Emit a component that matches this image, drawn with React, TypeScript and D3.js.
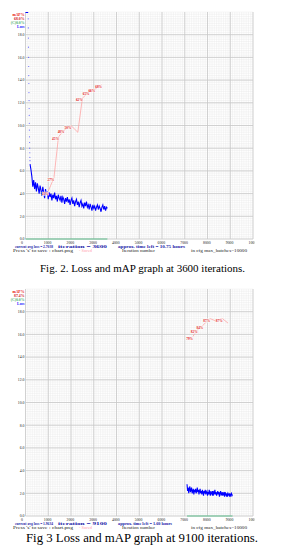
import { useEffect, useRef } from "react";
import * as d3 from "d3";

const W = 283;
const H = 556;
const MAX_BATCHES = 10000;
const MAX_LOSS = 20;

// ---- chart 1 : 3600 iterations ----
const loss1Start = 200;
const loss1Step = 40;
const loss1 = [
  6.6, 6.1, 5.5, 4.6, 5.2, 4.4, 5.0, 4.2, 4.9, 4.5, 4.0, 4.7, 4.3, 3.8, 4.6, 4.1,
  3.6, 4.4, 3.9, 4.2, 3.5, 4.1, 3.7, 4.0, 3.4, 3.9, 3.6, 4.1, 3.5, 3.8, 3.3, 3.9,
  3.6, 3.4, 3.8, 3.2, 3.7, 3.5, 3.1, 3.6, 3.3, 3.7, 3.2, 3.5, 3.0, 3.4, 3.6, 3.1,
  3.4, 2.9, 3.3, 3.5, 3.0, 3.3, 2.8, 3.2, 3.4, 2.9, 3.1, 2.7, 3.2, 2.9, 3.3, 2.8,
  3.0, 2.6, 3.1, 2.8, 2.5, 3.0, 2.7, 2.9, 2.5, 2.8, 3.0, 2.6, 2.9, 2.7, 2.4, 2.8,
  3.0, 2.6, 2.9, 2.5, 2.8, 2.7,
];
const early1Iter = [
  120, 124, 128, 132, 136, 140, 144, 148, 152, 156, 160, 164, 168, 172, 176, 180,
  184, 188, 192, 196,
];
const early1Loss = [
  19.4, 18.6, 17.7, 16.9, 16.0, 15.2, 14.4, 13.7, 12.9, 12.2, 11.5, 10.9, 10.2,
  9.6, 9.0, 8.5, 8.0, 7.6, 7.2, 6.9,
];
const top1Iter = [0, 120];
const map1Iter = [1000, 1250, 1450, 1700, 2000, 2300, 2500, 2800, 3050, 3350];
const map1Val = [21, 27, 45, 48, 50, 47, 62, 65, 66, 68];
const legend1 = ["mAP%", "68.0%", "(C)0.0%", "Loss"];
const status1 = ["current avg loss = 2.7038", "iteration = 3600", "approx. time left = 10.75 hours"];
const caption1 = "Fig. 2. Loss and mAP graph at 3600 iterations.";

// ---- chart 2 : 9100 iterations ----
const loss2Start = 7100;
const loss2Step = 25;
const loss2 = [
  2.8, 2.2, 2.5, 2.0, 2.4, 2.6, 2.1, 2.3, 2.5, 2.0, 2.2, 2.4, 1.9, 2.3, 2.1, 2.4,
  2.0, 2.2, 2.5, 2.1, 2.3, 1.9, 2.2, 2.4, 2.0, 2.2, 1.9, 2.3, 2.1, 1.8, 2.2, 2.0,
  2.3, 1.9, 2.1, 2.2, 1.8, 2.1, 1.9, 2.3, 2.0, 1.8, 2.2, 2.0, 1.9, 2.2, 1.8, 2.1,
  2.0, 2.3, 1.9, 2.1, 1.8, 2.0, 2.2, 1.9, 2.1, 1.7, 2.0, 2.2, 1.9, 2.0, 1.8, 2.1,
  1.9, 2.0, 1.7, 2.1, 1.9, 1.8, 2.0, 1.7, 2.0, 1.9, 1.8, 2.0, 1.7, 1.9, 2.0, 1.8,
  1.9,
];
const map2Iter = [7350, 7550, 7800, 8100, 8350, 8650, 8900];
const map2Val = [79, 82, 84, 87, 86, 87, 85];
const legend2 = ["mAP%", "87.4%", "(C)0.0%", "Loss"];
const status2 = ["current avg loss = 1.9634", "iteration = 9100", "approx. time left = 1.60 hours"];
const caption2 = "Fig 3 Loss and mAP graph at 9100 iterations.";

const xTicks = [0, 1000, 2000, 3000, 4000, 5000, 6000, 7000, 8000, 9000, 10000];
const yTicks = [0, 2, 4, 6, 8, 10, 12, 14, 16, 18];

type ChartCfg = {
  id: string;
  top: number;
  bottom: number;
  lossStart: number;
  lossStep: number;
  loss: number[];
  earlyIter?: number[];
  earlyLoss?: number[];
  topIter?: number[];
  mapIter: number[];
  mapVal: number[];
  legend: string[];
  status: string[];
  statusEnd: number;
};

const font = "'Liberation Serif', serif";

function drawChart(svg: d3.Selection<SVGSVGElement, unknown, null, undefined>, c: ChartCfg) {
  const x = d3.scaleLinear().domain([0, MAX_BATCHES]).range([25.5, 253]);
  const y = d3.scaleLinear().domain([0, MAX_LOSS]).range([c.bottom, c.top]);

  svg
    .append("clipPath")
    .attr("id", `clip-${c.id}`)
    .append("rect")
    .attr("x", 0)
    .attr("y", c.top - 5)
    .attr("width", 254.5)
    .attr("height", c.bottom - c.top + 25);

  const g = svg.append("g").attr("clip-path", `url(#clip-${c.id})`);

  // fine grid
  const minorX = d3.range(0, MAX_BATCHES + 1, 100);
  const minorY = d3.range(0, MAX_LOSS + 0.01, 0.2);
  g.append("g")
    .selectAll("line")
    .data(minorX)
    .join("line")
    .attr("x1", (d) => x(d))
    .attr("x2", (d) => x(d))
    .attr("y1", y(MAX_LOSS))
    .attr("y2", y(0))
    .attr("stroke", "#e9e9e9")
    .attr("stroke-width", 0.4);
  g.append("g")
    .selectAll("line")
    .data(minorY)
    .join("line")
    .attr("x1", x(0))
    .attr("x2", x(MAX_BATCHES))
    .attr("y1", (d) => y(d))
    .attr("y2", (d) => y(d))
    .attr("stroke", "#e9e9e9")
    .attr("stroke-width", 0.4);

  // major grid
  g.append("g")
    .selectAll("line")
    .data(xTicks)
    .join("line")
    .attr("x1", (d) => x(d))
    .attr("x2", (d) => x(d))
    .attr("y1", y(MAX_LOSS))
    .attr("y2", y(0))
    .attr("stroke", "#c8c8c8")
    .attr("stroke-width", 0.8);
  g.append("g")
    .selectAll("line")
    .data(yTicks)
    .join("line")
    .attr("x1", x(0))
    .attr("x2", x(MAX_BATCHES))
    .attr("y1", (d) => y(d))
    .attr("y2", (d) => y(d))
    .attr("stroke", "#c8c8c8")
    .attr("stroke-width", 0.8);

  // y labels
  g.append("g")
    .selectAll("text")
    .data(yTicks)
    .join("text")
    .attr("x", 24.5)
    .attr("y", (d) => y(d) + 1.3)
    .attr("text-anchor", "end")
    .attr("font-family", font)
    .attr("font-size", 3.8)
    .attr("fill", "#222")
    .text((d) => d3.format(".1f")(d));

  // x labels
  g.append("g")
    .selectAll("text")
    .data(xTicks)
    .join("text")
    .attr("x", (d) => x(d) - 4.5)
    .attr("y", c.bottom + 5.2)
    .attr("font-family", font)
    .attr("font-size", 3.8)
    .attr("fill", "#222")
    .text((d) => String(d));

  // contrastive accuracy line (0%)
  const endIter = c.lossStart + c.lossStep * (c.loss.length - 1);
  g.append("line")
    .attr("x1", x(c.topIter ? 0 : c.lossStart))
    .attr("x2", x(endIter))
    .attr("y1", y(0))
    .attr("y2", y(0))
    .attr("stroke", "#5dbb8a")
    .attr("stroke-width", 1);

  // loss clipped at the top
  if (c.topIter) {
    g.append("line")
      .attr("x1", x(c.topIter[0]))
      .attr("x2", x(c.topIter[1]))
      .attr("y1", y(MAX_LOSS) + 0.5)
      .attr("y2", y(MAX_LOSS) + 0.5)
      .attr("stroke", "#0000ff")
      .attr("stroke-width", 1);
  }
  if (c.earlyIter && c.earlyLoss) {
    g.append("g")
      .selectAll("circle")
      .data(c.earlyIter.map((it, i) => [it, c.earlyLoss![i]]))
      .join("circle")
      .attr("cx", (d) => x(d[0]))
      .attr("cy", (d) => y(d[1]))
      .attr("r", 0.6)
      .attr("fill", "#6a6aff");
  }

  // loss
  const lossPts = c.loss.map((v, i) => [c.lossStart + i * c.lossStep, v] as [number, number]);
  const line = d3
    .line<[number, number]>()
    .x((d) => x(d[0]))
    .y((d) => y(d[1]));
  g.append("path")
    .attr("d", line(lossPts))
    .attr("fill", "none")
    .attr("stroke", "#0000ff")
    .attr("stroke-width", 1.1)
    .attr("stroke-linejoin", "miter");

  // mAP
  const mapPts = c.mapIter.map((it, i) => [it, c.mapVal[i] / 100 * MAX_LOSS] as [number, number]);
  g.append("path")
    .attr("d", line(mapPts))
    .attr("fill", "none")
    .attr("stroke", "#ff9a9a")
    .attr("stroke-width", 0.7);
  let best = -1;
  const labels: { p: [number, number]; v: number }[] = [];
  c.mapVal.forEach((v, i) => {
    if (v >= best) labels.push({ p: mapPts[i], v });
    if (v > best) best = v;
  });
  g.append("g")
    .selectAll("text")
    .data(labels)
    .join("text")
    .attr("x", (d) => x(d.p[0]) - 6.5)
    .attr("y", (d) => y(d.p[1]) + 3.2)
    .attr("font-family", font)
    .attr("font-size", 3.4)
    .attr("font-weight", "bold")
    .attr("fill", "#e01010")
    .attr("stroke", "#fff")
    .attr("stroke-width", 0.8)
    .attr("paint-order", "stroke")
    .text((d) => `${d.v}%`);

  // legend
  const legendColors = ["#e81010", "#d01010", "#4caf6a", "#1010ff"];
  svg
    .append("g")
    .selectAll("text")
    .data(c.legend)
    .join("text")
    .attr("x", 24.5)
    .attr("y", (_, i) => c.top + 4.2 + i * 4)
    .attr("text-anchor", "end")
    .attr("font-family", font)
    .attr("font-size", 3.8)
    .attr("font-weight", "bold")
    .attr("fill", (_, i) => legendColors[i])
    .text((d) => d);

  // status lines
  const rowBlue = c.bottom + 9.2;
  const rowBlack = c.bottom + 13.2;
  const spans = [
    [15, 53],
    [58, 107],
    [118, c.statusEnd],
  ];
  svg
    .append("g")
    .selectAll("text")
    .data(c.status)
    .join("text")
    .attr("x", (_, i) => spans[i][0])
    .attr("y", rowBlue)
    .attr("textLength", (_, i) => spans[i][1] - spans[i][0])
    .attr("lengthAdjust", "spacingAndGlyphs")
    .attr("font-family", font)
    .attr("font-size", 3.8)
    .attr("font-weight", "bold")
    .attr("fill", "#1a1aa8")
    .text((d) => d);

  const blackRow: [string, number, number, string][] = [
    ["Press 's' to save : chart.png", 13, 73, "#222"],
    ["- Saved", 79, 92, "#ff9aa8"],
    ["Iteration number", 122, 155, "#222"],
    ["in cfg max_batches=10000", 191, 247, "#222"],
  ];
  svg
    .append("g")
    .selectAll("text")
    .data(blackRow)
    .join("text")
    .attr("x", (d) => d[1])
    .attr("y", rowBlack)
    .attr("textLength", (d) => d[2] - d[1])
    .attr("lengthAdjust", "spacingAndGlyphs")
    .attr("font-family", font)
    .attr("font-size", 3.8)
    .attr("fill", (d) => d[3])
    .text((d) => d[0]);
}

export default function App() {
  const ref = useRef<SVGSVGElement | null>(null);

  useEffect(() => {
    if (!ref.current) return;
    const svg = d3.select(ref.current);
    svg.selectAll("*").remove();

    drawChart(svg, {
      id: "c1",
      top: 12,
      bottom: 239,
      lossStart: loss1Start,
      lossStep: loss1Step,
      loss: loss1,
      earlyIter: early1Iter,
      earlyLoss: early1Loss,
      topIter: top1Iter,
      mapIter: map1Iter,
      mapVal: map1Val,
      legend: legend1,
      status: status1,
      statusEnd: 185,
    });
    drawChart(svg, {
      id: "c2",
      top: 289,
      bottom: 516,
      lossStart: loss2Start,
      lossStep: loss2Step,
      loss: loss2,
      mapIter: map2Iter,
      mapVal: map2Val,
      legend: legend2,
      status: status2,
      statusEnd: 172,
    });

    svg
      .append("text")
      .attr("x", 40)
      .attr("y", 272)
      .attr("textLength", 205)
      .attr("lengthAdjust", "spacingAndGlyphs")
      .attr("font-family", font)
      .attr("font-size", 10.5)
      .attr("fill", "#000")
      .text(caption1);
    svg
      .append("text")
      .attr("x", 26)
      .attr("y", 542)
      .attr("textLength", 232)
      .attr("lengthAdjust", "spacingAndGlyphs")
      .attr("font-family", font)
      .attr("font-size", 12.5)
      .attr("fill", "#000")
      .text(caption2);
  }, []);

  return (
    <svg
      ref={ref}
      width={W}
      height={H}
      viewBox={`0 0 ${W} ${H}`}
      style={{ position: "absolute", left: 0, top: 0, background: "#fff" }}
    />
  );
}
